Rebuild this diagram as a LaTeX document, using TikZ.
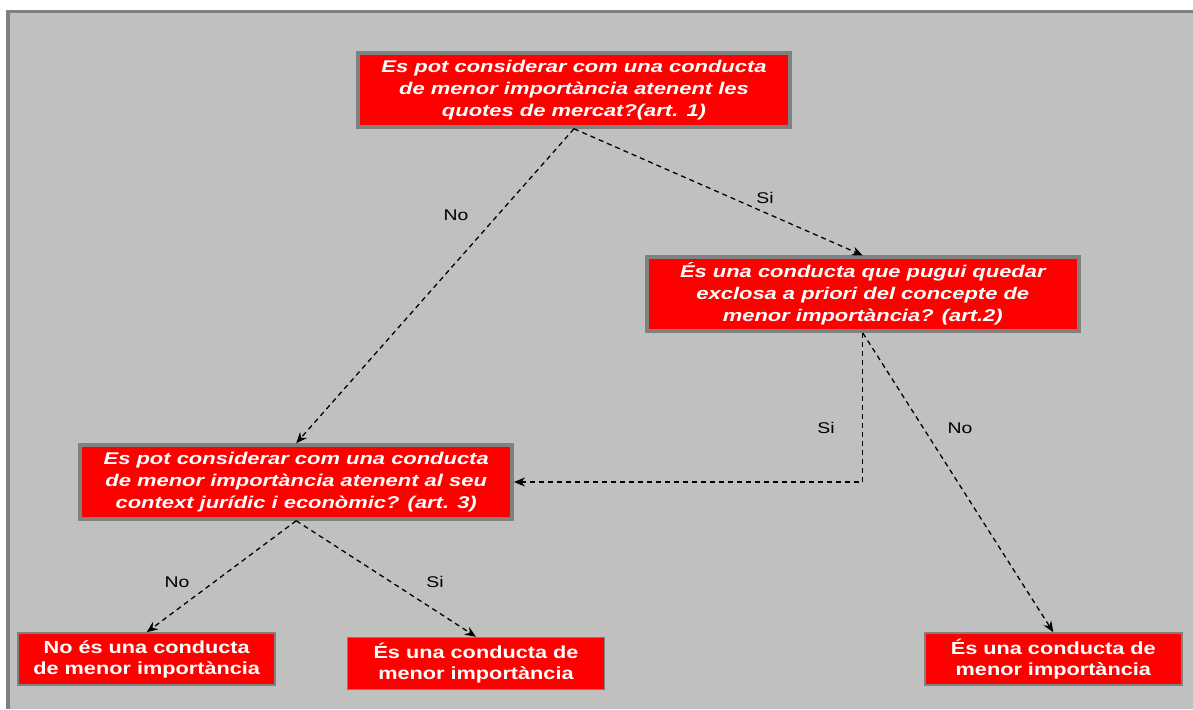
\documentclass[tikz,border=0pt]{standalone}
\usepackage{fontspec}
\usetikzlibrary{arrows.meta}
\newfontfamily\qfont[FakeStretch=1.29]{Liberation Sans}
\newfontfamily\afont[FakeStretch=1.24]{Liberation Sans}
\newfontfamily\lfont[FakeStretch=1.25]{Liberation Sans}
\definecolor{bgfill}{HTML}{C0C0C0}
\definecolor{bordergray}{HTML}{808080}
\definecolor{boxred}{HTML}{FF0000}
\tikzset{
  qbox/.style={draw=bordergray, line width=3.5pt, fill=boxred, text=white,
    align=center, inner sep=0pt, minimum width=432pt, minimum height=74pt,
    font=\qfont\bfseries\itshape\fontsize{17}{22}\selectfont},
  abox/.style={draw=bordergray, line width=1.5pt, fill=boxred, text=white,
    align=center, inner sep=0pt, minimum width=257pt, minimum height=52pt,
    font=\afont\bfseries\fontsize{17.5}{21}\selectfont},
  arr/.style={draw=black, line width=1.3pt, dash pattern=on 5pt off 4pt,
    -{Stealth[length=11pt,width=9pt]}},
  lbl/.style={font=\lfont\fontsize{15.5}{18}\selectfont, inner sep=0pt}
}
\begin{document}
\begin{tikzpicture}[x=1pt,y=-1pt]
\useasboundingbox (0,0) rectangle (1193,709);
\fill[white] (0,0) rectangle (1193,709);
\fill[bgfill] (6,10) rectangle (1193,709);
\draw[line width=3.5pt, bordergray] (7.75,709) -- (7.75,11.75) -- (1193,11.75);

\node[qbox] (q1) at (574,90) {Es pot considerar com una conducta\\de menor importància atenent les\\quotes de mercat?(art. 1)};
\node[qbox] (q2) at (862.8,294.2) {És una conducta que pugui quedar\\exclosa a priori del concepte de\\menor importància? (art.2)};
\node[qbox] (q3) at (296.2,482) {Es pot considerar com una conducta\\de menor importància atenent al seu\\context jurídic i econòmic? (art. 3)};

\node[abox] (a1) at (146.7,659) {No és una conducta\\de menor importància};
\node[abox] (a2) at (476,663.5) {És una conducta de\\menor importància};
\node[abox] (a3) at (1053.3,659) {És una conducta de\\menor importància};

\draw[arr] (q1.south) -- (q3.north);
\draw[arr] (q1.south) -- (q2.north);
\draw[arr] (q2.south) |- (q3.east);
\draw[arr] (q2.south) -- (a3.north);
\draw[arr] (q3.south) -- (a1.north);
\draw[arr] (q3.south) -- (a2.north);

\node[lbl] (l1) at (456,215) {No};
\node[lbl] (l2) at (765,198) {Si};
\node[lbl] (l3) at (826,428) {Si};
\node[lbl] (l4) at (960,428) {No};
\node[lbl] (l5) at (177,582) {No};
\node[lbl] (l6) at (435,582) {Si};
\end{tikzpicture}
\end{document}
